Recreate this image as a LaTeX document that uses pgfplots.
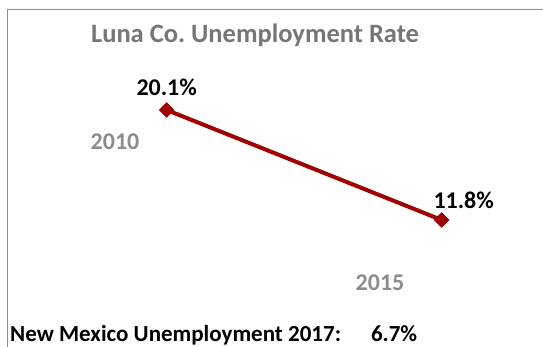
\documentclass[border=0pt]{standalone}
\usepackage{pgfplots}
\pgfplotsset{compat=1.18}
\usepackage{fontspec}
\setmainfont{Carlito}
\definecolor{linered}{HTML}{A00000}
\definecolor{titlegray}{HTML}{767676}
\definecolor{yeargray}{HTML}{8C8C8C}
\definecolor{framegray}{HTML}{8E8E8E}
\begin{document}
\begin{tikzpicture}[x=1pt,y=1pt]
% page area, 1 unit = 1 pixel of the finished picture
\path[use as bounding box] (0,0) rectangle (543,347);
% chart frame (runs past the right and bottom edges)
\draw[framegray, line width=1.5pt] (7.5,0) -- (7.5,337.5) -- (543,337.5);
\begin{axis}[
  at={(166.7pt,127pt)}, anchor=south west,
  scale only axis, width=275pt, height=110pt,
  xmin=2010, xmax=2015, ymin=11.8, ymax=20.1,
  hide axis, clip=false,
  /pgf/number format/assume math mode=true,
]
% square markers turned by 45 degrees give the diamonds
\addplot[linered, line width=4pt, mark=square*, mark size=5.2pt,
  mark options={solid, rotate=45, fill=linered, draw=linered, line width=0.5pt},
  nodes near coords={\pgfmathprintnumber[fixed,precision=1,fixed zerofill]{\pgfplotspointmeta}\%},
  every node near coord/.append style={font=\fontsize{24}{28}\selectfont\bfseries, text=black},
  visualization depends on={value \coordindex\as\idx},
  nodes near coords style={anchor=center, xshift={\idx==0 ? 0pt : 22pt}, yshift={\idx==0 ? 23pt : 20pt}},
] coordinates {(2010,20.1) (2015,11.8)};
\end{axis}
% title, year captions and footnote line
\node[titlegray, font=\fontsize{26.5}{30}\selectfont\bfseries] at (255,312) {Luna Co.\ Unemployment Rate};
\node[yeargray, font=\fontsize{24}{28}\selectfont\bfseries] at (115,205) {2010};
\node[yeargray, font=\fontsize{24}{28}\selectfont\bfseries] at (380,64) {2015};
\node[anchor=base west, inner sep=0pt, font=\fontsize{23}{27}\selectfont\bfseries] at (10,5) {New Mexico Unemployment 2017:\hspace{1.3em}6.7\%};
\end{tikzpicture}
\end{document}
